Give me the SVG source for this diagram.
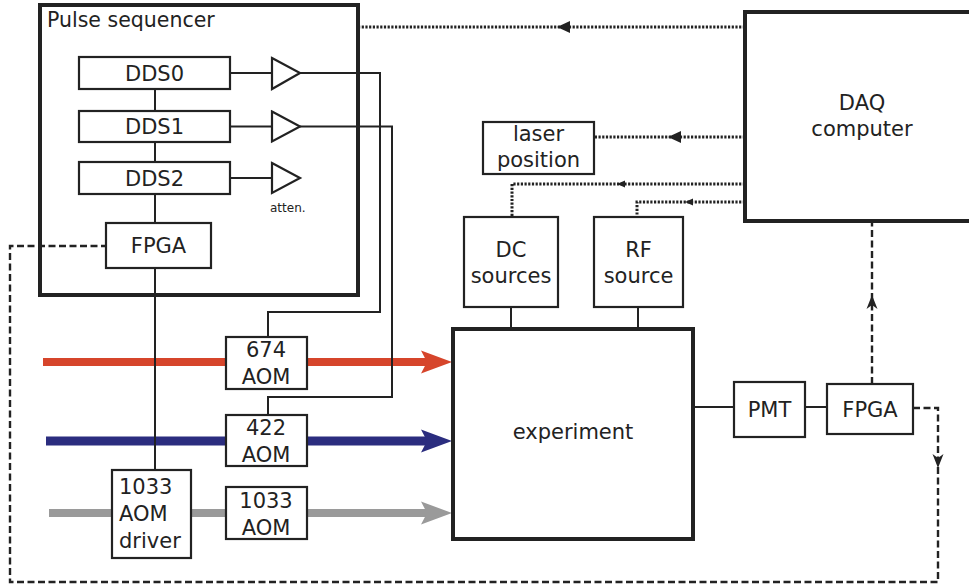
<svg xmlns="http://www.w3.org/2000/svg" xmlns:xlink="http://www.w3.org/1999/xlink" width="969" height="586" viewBox="0 0 969 586">
<style>
text{font-family:"DejaVu Sans","Liberation Sans",sans-serif;font-size:21px;fill:#222}
.c{text-anchor:middle}
.box{fill:#fff;stroke:#222;stroke-width:2.2}
.big{fill:#fff;stroke:#222;stroke-width:4}
.wire{fill:none;stroke:#222;stroke-width:2}
.dot{fill:none;stroke:#222;stroke-width:3;stroke-dasharray:2.2 1.5}
.dash{fill:none;stroke:#222;stroke-width:2.4;stroke-dasharray:7 3.5}
.amp{fill:#fff;stroke:#222;stroke-width:2.2}
.head{fill:#222}
</style>
<defs>
<path id="ahL" d="M0,0 L13,-6 L13,6 Z"/>
<path id="ahLs" d="M0,0 L8,-3.5 L8,3.5 Z"/>
<path id="ahV" d="M0,0 L-5.5,-14 L0,-10 L5.5,-14 Z"/>
<path id="beamHead" d="M0,0 L-31,-11.5 L-25,0 L-31,11.5 Z"/>
</defs>

<rect width="969" height="586" fill="#fff"/>

<g id="connectors">
  <g id="beams">
    <line x1="43" y1="362" x2="428" y2="362" stroke="#d6452b" stroke-width="8"/>
    <use xlink:href="#beamHead" href="#beamHead" x="452" y="362" fill="#d6452b"/>
    <line x1="46" y1="441" x2="428" y2="441" stroke="#2b2d7f" stroke-width="9"/>
    <use xlink:href="#beamHead" href="#beamHead" x="452" y="441" fill="#2b2d7f"/>
    <line x1="49" y1="513" x2="428" y2="513" stroke="#9a9a9a" stroke-width="8"/>
    <use xlink:href="#beamHead" href="#beamHead" x="452" y="513" fill="#9a9a9a"/>
  </g>
  <path class="wire" d="M155,89 V111 M155,142 V162 M155,194 V223 M155,268 V470"/>
  <path class="wire" d="M230,73 H272 M230,126.5 H272 M230,178 H272"/>
  <path class="wire" d="M300,73 H380 V312 H268 V337"/>
  <path class="wire" d="M300,126.5 H392 V397 H268 V415"/>
  <path class="wire" d="M511,307 V329 M638,307 V329"/>
  <path class="wire" d="M693,407 H734 M805,407 H827"/>
  <path class="dot" d="M745,27 H360"/>
  <use class="head" xlink:href="#ahL" href="#ahL" x="557" y="27"/>
  <path class="dot" d="M745,137 H594"/>
  <use class="head" xlink:href="#ahL" href="#ahL" x="668" y="137"/>
  <path class="dot" d="M745,184 H512 V217"/>
  <use class="head" xlink:href="#ahLs" href="#ahLs" x="617" y="184"/>
  <path class="dot" d="M745,202 H637 V217"/>
  <use class="head" xlink:href="#ahLs" href="#ahLs" x="685" y="202"/>
  <path class="dash" d="M872,384 V221"/>
  <use class="head" xlink:href="#ahV" href="#ahV" transform="translate(872,295) rotate(180)"/>
  <path class="dash" d="M913,408 H938 V582 H10 V246 H106"/>
  <use class="head" xlink:href="#ahV" href="#ahV" x="938" y="468"/>
</g>

<g id="pulse-sequencer">
  <rect class="big" x="40" y="5" width="318" height="290" style="fill:none"/>
  <text x="47" y="27" style="font-size:20.5px">Pulse sequencer</text>
</g>

<g id="dds0">
  <rect class="box" x="79" y="57" width="151" height="32"/>
  <text class="c" x="154.5" y="81">DDS0</text>
</g>
<g id="dds1">
  <rect class="box" x="79" y="111" width="151" height="31"/>
  <text class="c" x="154.5" y="134">DDS1</text>
</g>
<g id="dds2">
  <rect class="box" x="79" y="162" width="151" height="32"/>
  <text class="c" x="154.5" y="186">DDS2</text>
</g>
<g id="amp0"><polygon class="amp" points="272,58 300,73 272,89"/></g>
<g id="amp1"><polygon class="amp" points="272,111.5 300,126.5 272,141.5"/></g>
<g id="amp2">
  <polygon class="amp" points="272,163 300,178 272,193"/>
  <text x="270" y="212" style="font-size:12px">atten.</text>
</g>
<g id="fpga-seq">
  <rect class="box" x="106" y="223" width="105" height="45"/>
  <text class="c" x="158.5" y="253">FPGA</text>
</g>

<g id="aom674">
  <rect class="box" x="226" y="337" width="81" height="52"/>
  <text class="c" x="266" y="357">674</text>
  <text class="c" x="266" y="384">AOM</text>
</g>
<g id="aom422">
  <rect class="box" x="226" y="415" width="81" height="51"/>
  <text class="c" x="266" y="435">422</text>
  <text class="c" x="266" y="462">AOM</text>
</g>
<g id="aom1033">
  <rect class="box" x="226" y="487" width="81" height="52"/>
  <text class="c" x="266" y="508">1033</text>
  <text class="c" x="266" y="535">AOM</text>
</g>
<g id="aom1033-driver">
  <rect class="box" x="112" y="470" width="79" height="88"/>
  <text x="119" y="494">1033</text>
  <text x="119" y="521">AOM</text>
  <text x="119" y="548">driver</text>
</g>

<g id="laser-position">
  <rect class="box" x="483" y="122" width="111" height="52"/>
  <text class="c" x="538.5" y="141">laser</text>
  <text class="c" x="538.5" y="167">position</text>
</g>
<g id="dc-sources">
  <rect class="box" x="464" y="217" width="94" height="90"/>
  <text class="c" x="511" y="257">DC</text>
  <text class="c" x="511" y="283">sources</text>
</g>
<g id="rf-source">
  <rect class="box" x="594" y="217" width="89" height="90"/>
  <text class="c" x="638.5" y="257">RF</text>
  <text class="c" x="638.5" y="283">source</text>
</g>

<g id="daq-computer">
  <rect class="big" x="745" y="12" width="240" height="209"/>
  <text class="c" x="862" y="110">DAQ</text>
  <text class="c" x="862" y="136">computer</text>
</g>

<g id="experiment">
  <rect class="big" x="453" y="329" width="240" height="210"/>
  <text class="c" x="573" y="439">experiment</text>
</g>
<g id="pmt">
  <rect class="box" x="734" y="382" width="71" height="55"/>
  <text class="c" x="769.5" y="417">PMT</text>
</g>
<g id="fpga-det">
  <rect class="box" x="827" y="384" width="86" height="50"/>
  <text class="c" x="870" y="417">FPGA</text>
</g>
</svg>
